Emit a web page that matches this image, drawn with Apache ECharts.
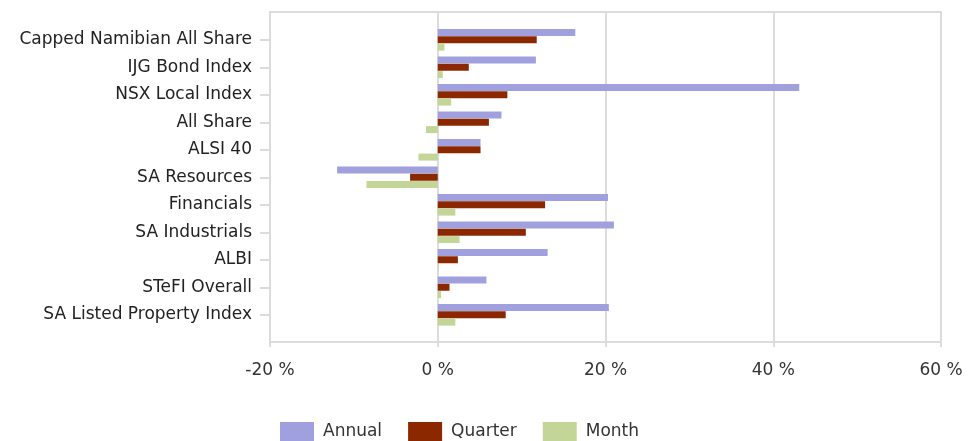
<!DOCTYPE html>
<html><head><meta charset="utf-8">
<script src="https://cdn.jsdelivr.net/npm/echarts@6/dist/echarts.min.js"></script>
<style>html,body{margin:0;padding:0;background:#fff}#c{width:968px;height:441px}</style>
</head><body><div id="c"></div>
<script>
const categories = ["Capped Namibian All Share","IJG Bond Index","NSX Local Index","All Share","ALSI 40","SA Resources","Financials","SA Industrials","ALBI","STeFI Overall","SA Listed Property Index"];
const annual  = [16.4, 11.7, 43.1, 7.6, 5.1, -12.0, 20.3, 21.0, 13.1, 5.8, 20.4];
const quarter = [11.8, 3.7, 8.3, 6.1, 5.1, -3.3, 12.8, 10.5, 2.4, 1.4, 8.1];
const month   = [0.8, 0.6, 1.6, -1.4, -2.3, -8.5, 2.1, 2.6, 0.1, 0.4, 2.1];
const xTicks = [-20, 0, 20, 40, 60];

const FONT = "DejaVu Sans";
const chart = echarts.init(document.getElementById('c'), null, {renderer:'canvas'});
const grid = {left:270, right:27};
chart.setOption({
  animation:false,
  textStyle:{fontFamily:FONT},
  legend:{
    bottom:-6, left:275, itemWidth:34, itemHeight:20, itemGap:26, icon:'rect',
    textStyle:{fontSize:17, color:'#333', fontFamily:FONT, padding:[0,0,0,4]},
    data:['Annual','Quarter','Month']
  },
  grid:[
    {left:grid.left, right:grid.right, top:26, height:302.5},
    {left:grid.left, right:grid.right, top:12, height:330}
  ],
  xAxis:[
    {gridIndex:0, type:'value', min:xTicks[0], max:xTicks[xTicks.length-1], interval:20, show:false},
    {gridIndex:1, type:'value', min:xTicks[0], max:xTicks[xTicks.length-1], interval:20, position:'bottom',
     axisLine:{show:true, lineStyle:{color:'#dcdcdc', width:2}},
     axisTick:{show:true, length:5, lineStyle:{color:'#dcdcdc', width:2}},
     axisLabel:{formatter:'{value} %', fontSize:17, color:'#333', margin:20, fontFamily:FONT},
     splitLine:{show:true, lineStyle:{color:'#dcdcdc', width:2}}},
    {gridIndex:1, type:'value', min:xTicks[0], max:xTicks[xTicks.length-1], position:'top',
     axisLine:{show:true, lineStyle:{color:'#dcdcdc', width:2}},
     axisTick:{show:false}, axisLabel:{show:false}, splitLine:{show:false}}
  ],
  yAxis:[
    {gridIndex:0, type:'category', data:categories, inverse:true, position:'left',
     axisLine:{show:false, onZero:false},
     axisTick:{show:true, alignWithLabel:true, length:10, lineStyle:{color:'#dcdcdc', width:2}},
     axisLabel:{fontSize:17, color:'#222', margin:18, fontFamily:FONT}},
    {gridIndex:1, type:'value', min:0, max:1,
     axisLine:{show:true, onZero:false, lineStyle:{color:'#dcdcdc', width:2}},
     axisTick:{show:false}, axisLabel:{show:false}, splitLine:{show:false}}
  ],
  series:[
    {name:'Annual', type:'bar', xAxisIndex:0, yAxisIndex:0, data:annual, barWidth:7, barGap:'5%',
     itemStyle:{color:'#a0a0de'}},
    {name:'Quarter', type:'bar', xAxisIndex:0, yAxisIndex:0, data:quarter, barWidth:7, barGap:'5%',
     itemStyle:{color:'#8b2800'}},
    {name:'Month', type:'bar', xAxisIndex:0, yAxisIndex:0, data:month, barWidth:7, barGap:'5%',
     itemStyle:{color:'#c4d598'}}
  ]
});
</script></body></html>
